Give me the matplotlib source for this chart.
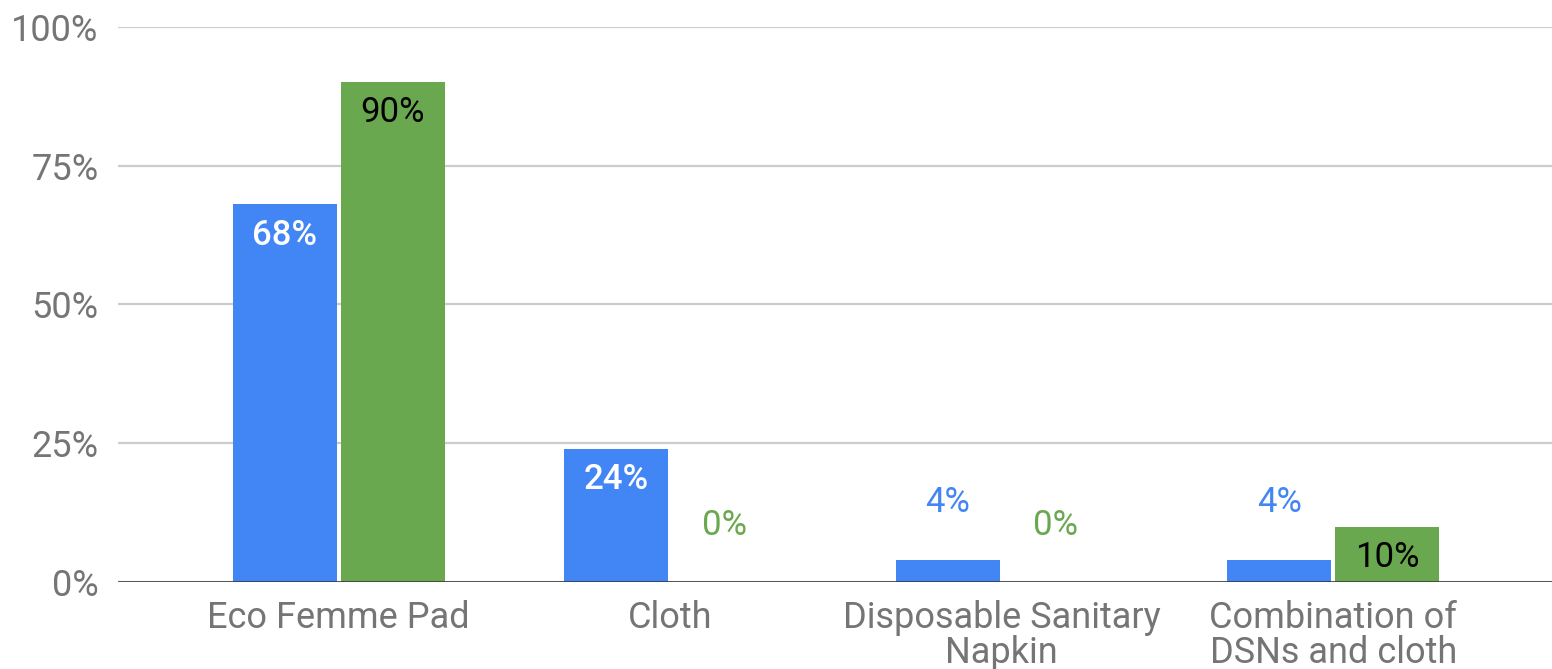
import matplotlib
matplotlib.use('Agg')
import matplotlib.pyplot as plt
import numpy as np

plt.rcParams['font.family'] = ['Roboto', 'DejaVu Sans']

categories = ['Eco Femme Pad', 'Cloth', 'Disposable Sanitary\nNapkin',
              'Combination of\nDSNs and cloth']
blue_vals = [68, 24, 4, 4]
green_vals = [90, 0, 0, 10]
yticks = [0, 25, 50, 75, 100]

blue = '#4285f4'
green = '#6aa84f'

fig = plt.figure(figsize=(15.52, 6.69), dpi=100)
ax = fig.add_axes([0.076, 0.130, 0.924, 0.830])

x = np.arange(len(categories))
w = 0.313
off = 0.163
bars_b = ax.bar(x - off, blue_vals, w, color=blue, zorder=3)
bars_g = ax.bar(x + off, green_vals, w, color=green, zorder=3)

# value labels: inside the top of the bar if it fits, otherwise above it
for bars, vals, col, incol, wt in [(bars_b, blue_vals, blue, 'white', 'medium'),
                                   (bars_g, green_vals, green, 'black', 'normal')]:
    for b, v in zip(bars, vals):
        cx = b.get_x() + b.get_width() / 2
        if v >= 10:
            ax.annotate(f'{v}%', (cx, v), xytext=(0, -22), textcoords='offset points',
                        ha='center', va='center', fontsize=25, color=incol,
                        fontweight=wt, zorder=4)
        else:
            ax.annotate(f'{v}%', (cx, v), xytext=(0, 41), textcoords='offset points',
                        ha='center', va='center', fontsize=25, color=col, zorder=4)

ax.set_xlim(-0.666, 3.66)
ax.set_ylim(0, 100)
ax.set_yticks(yticks)
ax.set_yticklabels([f'{t}%' for t in yticks])
ax.set_xticks(x)
ax.set_xticklabels(categories, linespacing=0.95)

for s in ax.spines.values():
    s.set_visible(False)
ax.tick_params(length=0, labelsize=26, labelcolor='#757575')
ax.tick_params(axis='y', pad=14)
ax.tick_params(axis='x', pad=13)
ax.yaxis.grid(True, color='#cccccc', linewidth=1.6, zorder=0)
ax.set_axisbelow(True)
ax.axhline(0, color='#333333', linewidth=1.8, zorder=5)

fig.savefig('out.png', dpi=100)
